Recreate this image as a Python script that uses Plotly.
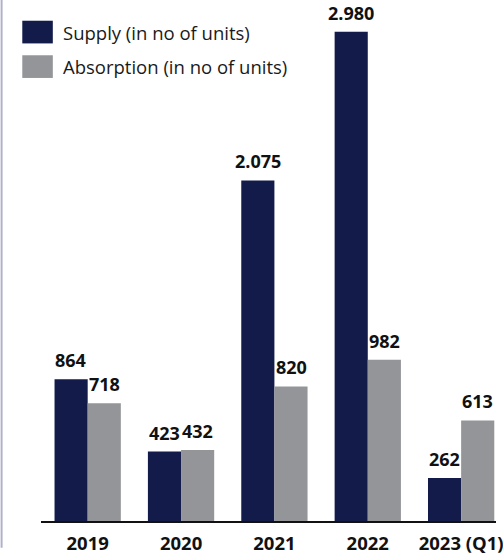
import plotly.graph_objects as go

# Yearly supply vs absorption of housing units
years = ["2019", "2020", "2021", "2022", "2023 (Q1)"]
supply = [864, 423, 2075, 2980, 262]
absorption = [718, 432, 820, 982, 613]

series_names = ["Supply (in no of units)", "Absorption (in no of units)"]
navy = "#131b4b"
grey = "#939598"
FONT = "Open Sans"

W, H = 503, 555
ml, mb = 41, 27
plot_w = W - ml
slot_px = 94.8       # width of one category slot in pixels
bargap = 0.29
bar_px = slot_px * (1 - bargap) / 2

fig = go.Figure()
for vals, color in ((supply, navy), (absorption, grey)):
    fig.add_trace(go.Bar(
        x=years, y=vals,
        marker=dict(color=color, line=dict(width=0)),
        showlegend=False,
    ))

# Value labels above each bar, thousands separated with a dot
annotations = []
for k, vals in enumerate((supply, absorption)):
    for idx, v in enumerate(vals):
        annotations.append(dict(
            x=idx, y=v, xref="x", yref="y",
            xshift=(k - 0.5) * bar_px, yshift=5,
            xanchor="center", yanchor="bottom", showarrow=False,
            text=f"<b>{v:,}</b>".replace(",", "."),
            font=dict(family=FONT, size=18, color="#111111"),
        ))

# Hand-laid legend: swatches plus labels in the top-left corner
shapes = []
for i, (name, color) in enumerate(zip(series_names, (navy, grey))):
    y_top = 21 + i * 35
    shapes.append(dict(
        type="rect", xref="paper", yref="paper",
        x0=(22 - ml) / plot_w, x1=(53 - ml) / plot_w,
        y0=1 - (y_top + 23) / (H - mb), y1=1 - y_top / (H - mb),
        fillcolor=color, line=dict(width=0), layer="above",
    ))
    annotations.append(dict(
        xref="paper", yref="paper",
        x=(61 - ml) / plot_w, y=1 - (y_top + 11.5) / (H - mb),
        xanchor="left", yanchor="middle", showarrow=False,
        text=name, font=dict(family=FONT, size=18.5, color="#1a1a1a"),
    ))

# thin frame line on the far left edge
shapes.append(dict(
    type="line", xref="paper", yref="paper",
    x0=(1 - ml) / plot_w, x1=(1 - ml) / plot_w, y0=-mb / (H - mb), y1=1,
    line=dict(color="#b0b2cc", width=2),
))

fig.update_layout(
    width=W, height=H,
    margin=dict(l=ml, r=0, t=0, b=mb),
    paper_bgcolor="white", plot_bgcolor="white",
    barmode="group", bargap=bargap, bargroupgap=0,
    shapes=shapes, annotations=annotations,
    xaxis=dict(
        type="category",
        range=[-0.5, -0.5 + plot_w / slot_px],
        showline=True, linecolor="#111111", linewidth=2,
        showgrid=False, zeroline=False,
        ticks="outside", ticklen=5, tickcolor="rgba(0,0,0,0)",
        tickfont=dict(family=FONT, size=18.5, color="#111111", weight="bold"),
    ),
    yaxis=dict(
        range=[0, 3174], visible=False, showgrid=False, zeroline=False,
    ),
)

fig.write_html("out.html")
